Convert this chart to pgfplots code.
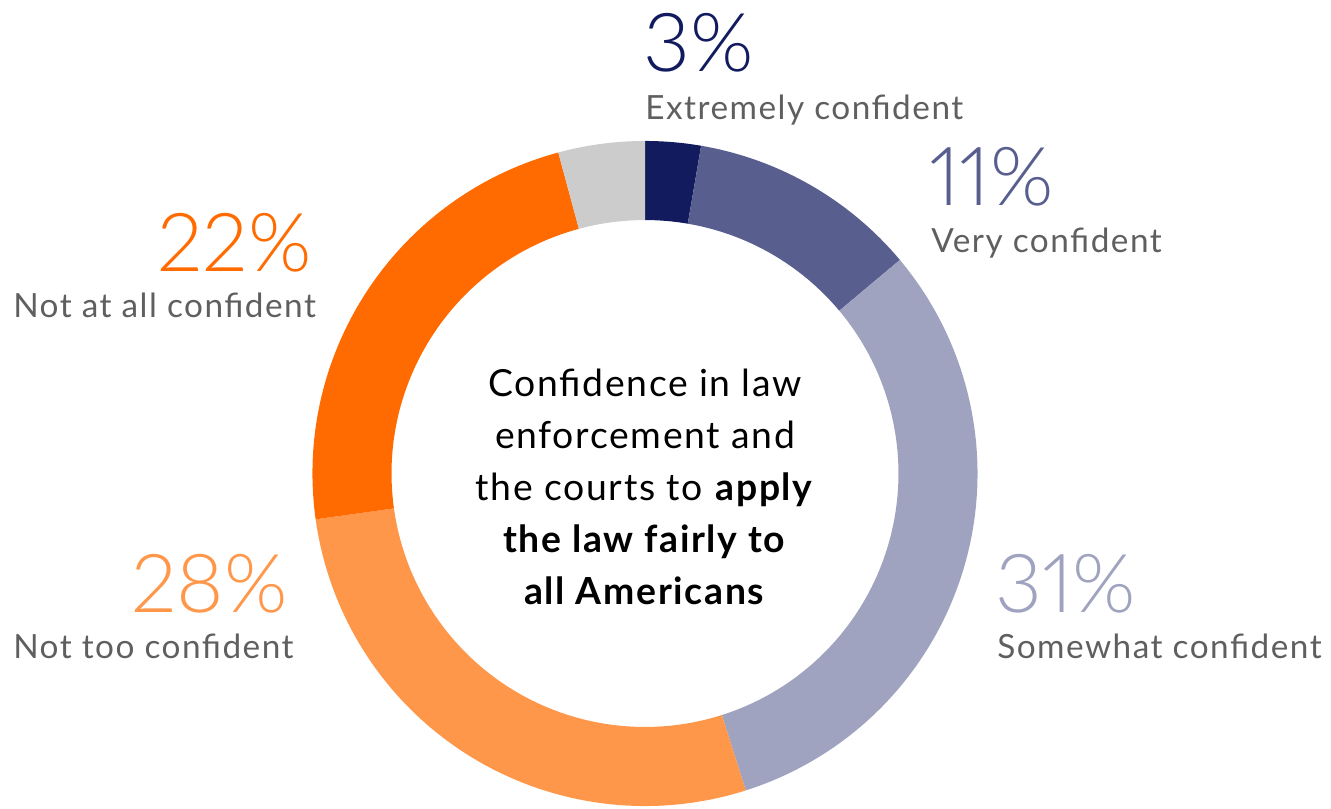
\documentclass[border=0pt]{standalone}
\usepackage{pgfplots}
\pgfplotsset{compat=1.18}
\usepackage{pgfplotstable}
\usepackage{fontspec}
\setmainfont{Lato}[LetterSpace=4.5]
\newfontfamily\lightfont{Lato Light}[Numbers=Proportional]
\newfontfamily\labfont{Lato}[LetterSpace=4.5]

\definecolor{seg0}{HTML}{121B5E}
\definecolor{seg1}{HTML}{585E8E}
\definecolor{seg2}{HTML}{A0A3C0}
\definecolor{seg3}{HTML}{FF974A}
\definecolor{seg4}{HTML}{FF6B00}
\definecolor{seg5}{HTML}{CCCCCC}
\definecolor{labgray}{HTML}{5F5F5F}

% share of each ring segment, clockwise from the top
\pgfplotstableread{
label value
Extremely 2.7
Very 11.2
Somewhat 31.2
NotToo 27.7
NotAtAll 23.0
NoAnswer 4.2
}\donut

\def\cum{0}
\pgfplotsforeachungrouped \i in {0,...,5}{%
  \pgfplotstablegetelem{\i}{value}\of\donut
  \pgfmathsetmacro\tmpS{\cum*3.6}%
  \pgfmathsetmacro\cumnew{\cum+\pgfplotsretval}%
  \pgfmathsetmacro\tmpE{\cumnew*3.6}%
  \expandafter\xdef\csname segS\i\endcsname{\tmpS}%
  \expandafter\xdef\csname segE\i\endcsname{\tmpE}%
  \xdef\cum{\cumnew}%
}
\def\Rout{249.4pt}
\def\Rin{190.1pt}
\def\Rdiff{59.3pt}

\newcommand\pct[1]{\lightfont\fontsize{61}{61}\selectfont #1}
\newcommand\lab{\labfont\fontsize{25}{30}\selectfont\color{labgray}}

\begin{document}
\begin{tikzpicture}
\begin{axis}[
  x=0.75pt, y=0.75pt,
  xmin=0, xmax=1331, ymin=0, ymax=808,
  y dir=reverse,
  hide axis, clip=false,
]
\pgfplotsinvokeforeach{0,...,5}{
  \fill[seg#1] (axis cs:645,473.5) ++({90-\csname segS#1\endcsname}:\Rout)
    arc[start angle={90-\csname segS#1\endcsname}, end angle={90-\csname segE#1\endcsname}, radius=\Rout]
    -- ++({270-\csname segE#1\endcsname}:\Rdiff)
    arc[start angle={90-\csname segE#1\endcsname}, end angle={90-\csname segS#1\endcsname}, radius=\Rin]
    -- cycle;
}
% labels
\node[anchor=base west, inner sep=0pt, text=seg0] at (axis cs:643,71) {\pct{3\%}};
\node[anchor=base west, inner sep=0pt] at (axis cs:645,119) {\lab Extremely confident};
\node[anchor=base west, inner sep=0pt, text=seg1] at (axis cs:929,205) {\pct{11\%}};
\node[anchor=base west, inner sep=0pt] at (axis cs:931,252) {\lab Very confident};
\node[anchor=base east, inner sep=0pt, text=seg4] at (axis cs:312,271) {\pct{22\%}};
\node[anchor=base west, inner sep=0pt] at (axis cs:13,317) {\lab Not at all confident};
\node[anchor=base east, inner sep=0pt, text=seg3] at (axis cs:288,612) {\pct{28\%}};
\node[anchor=base west, inner sep=0pt] at (axis cs:13,658) {\lab Not too confident};
\node[anchor=base west, inner sep=0pt, text=seg2] at (axis cs:995,612) {\pct{31\%}};
\node[anchor=base west, inner sep=0pt] at (axis cs:997,658) {\lab Somewhat confident};
% centre text
\node[anchor=center, align=center, inner sep=0pt, font=\fontsize{28}{39}\selectfont]
  at (axis cs:645,487)
  {Confidence in law\\ enforcement and\\ the courts to \textbf{apply}\\ \textbf{the law fairly to}\\ \textbf{all Americans}};
\end{axis}
\pgfresetboundingbox
\path[use as bounding box] (current axis.south west) rectangle (current axis.north east);
\end{tikzpicture}
\end{document}
